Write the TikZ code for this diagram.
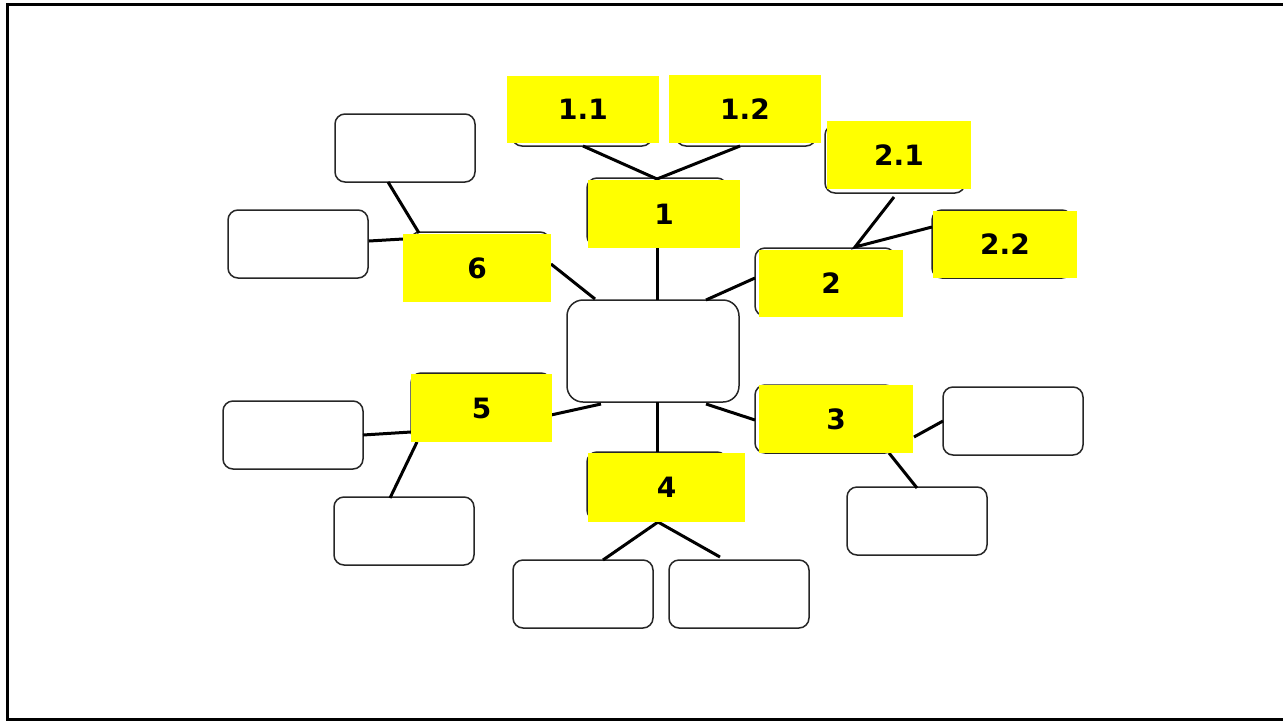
\documentclass[tikz,border=0pt]{standalone}
\usepackage{fontspec}
\setmainfont{DejaVu Sans}
\definecolor{yel}{RGB}{255,255,0}
\begin{document}
\begin{tikzpicture}[x=1pt,y=-1pt,
  rbox/.style={draw=black!85,line width=1.5pt,rounded corners=10pt,fill=white,
    minimum width=140pt,minimum height=68pt,inner sep=0pt},
  cbox/.style={rbox,rounded corners=16pt,minimum width=172pt,minimum height=102pt},
  ybox/.style={fill=yel,inner sep=0pt,font=\bfseries\fontsize{28}{28}\selectfont},
  conn/.style={line width=3pt,black}]
\useasboundingbox (0,0) rectangle (1283,721);
\draw[line width=3pt] (1295,4) -- (7,4) -- (7,719) -- (1295,719);
% rounded boxes
\node[cbox] (C) at (653,351) {};
\node[rbox] (R11) at (582,112) {};
\node[rbox] (R12) at (746,112) {};
\node[rbox] (R1) at (657,212) {};
\node[rbox] (R21) at (895,159) {};
\node[rbox] (R22) at (1002,244) {};
\node[rbox] (R2) at (825,282) {};
\node[rbox] (R6) at (480,266) {};
\node[rbox] (R6a) at (405,148) {};
\node[rbox] (R6b) at (298,244) {};
\node[rbox] (R5) at (481,407) {};
\node[rbox] (R5a) at (293,435) {};
\node[rbox] (R5b) at (404,531) {};
\node[rbox] (R3) at (825,419) {};
\node[rbox] (R3a) at (1013,421) {};
\node[rbox] (R3b) at (917,521) {};
\node[rbox] (R4) at (657,486) {};
\node[rbox] (R4a) at (583,594) {};
\node[rbox] (R4b) at (739,594) {};
% connector end points
\coordinate (p11) at (583,146);
\coordinate (p12) at (740,146);
\coordinate (j1) at (657,179);
\coordinate (p1b) at (657,248);
\coordinate (cN) at (657,300);
\coordinate (cNE) at (706,300);
\coordinate (p2w) at (755,278);
\coordinate (j2) at (855,247);
\coordinate (p21) at (894,197);
\coordinate (p22) at (932,227);
\coordinate (cNW) at (595,299);
\coordinate (p6e) at (551,264);
\coordinate (p6a) at (388,182);
\coordinate (p6n) at (419,233);
\coordinate (p6b) at (369,241);
\coordinate (p6w) at (403,239);
\coordinate (cSW) at (601,404);
\coordinate (p5e) at (551,415);
\coordinate (p5a) at (363,435);
\coordinate (p5w) at (411,432);
\coordinate (p5b) at (390,498);
\coordinate (p5s) at (417,442);
\coordinate (cS) at (657,402);
\coordinate (p4n) at (657,452);
\coordinate (cSE) at (706,404);
\coordinate (p3w) at (755,420);
\coordinate (p3e) at (914,437);
\coordinate (p3a) at (943,421);
\coordinate (p3s) at (889,453);
\coordinate (p3b) at (917,488);
\coordinate (j4) at (658,522);
\coordinate (p4a) at (603,560);
\coordinate (p4b) at (720,557);
% connectors
\draw[conn] (p11) -- (j1) -- (p12);
\draw[conn] (p1b) -- (cN);
\draw[conn] (cNE) -- (p2w);
\draw[conn] (p21) -- (j2) -- (p22);
\draw[conn] (cNW) -- (p6e);
\draw[conn] (p6a) -- (p6n);
\draw[conn] (p6b) -- (p6w);
\draw[conn] (cSW) -- (p5e);
\draw[conn] (p5a) -- (p5w);
\draw[conn] (p5b) -- (p5s);
\draw[conn] (cS) -- (p4n);
\draw[conn] (cSE) -- (p3w);
\draw[conn] (p3e) -- (p3a);
\draw[conn] (p3s) -- (p3b);
\draw[conn] (p4a) -- (j4) -- (p4b);
% yellow labels
\node[ybox,minimum width=152pt,minimum height=67pt] (Y11) at (583,109.5) {1.1};
\node[ybox,minimum width=152pt,minimum height=68pt] (Y12) at (745,109) {1.2};
\node[ybox,minimum width=152pt,minimum height=68pt] (Y1) at (664,214) {1};
\node[ybox,minimum width=144pt,minimum height=68pt] (Y21) at (899,155) {2.1};
\node[ybox,minimum width=144pt,minimum height=67pt] (Y22) at (1005,244.5) {2.2};
\node[ybox,minimum width=144pt,minimum height=67pt] (Y2) at (831,283.5) {2};
\node[ybox,minimum width=148pt,minimum height=68pt] (Y6) at (477,268) {6};
\node[ybox,minimum width=141pt,minimum height=68pt] (Y5) at (481.5,408) {5};
\node[ybox,minimum width=154pt,minimum height=68pt] (Y3) at (836,419) {3};
\node[ybox,minimum width=157pt,minimum height=69pt] (Y4) at (666.5,487.5) {4};
\end{tikzpicture}
\end{document}
